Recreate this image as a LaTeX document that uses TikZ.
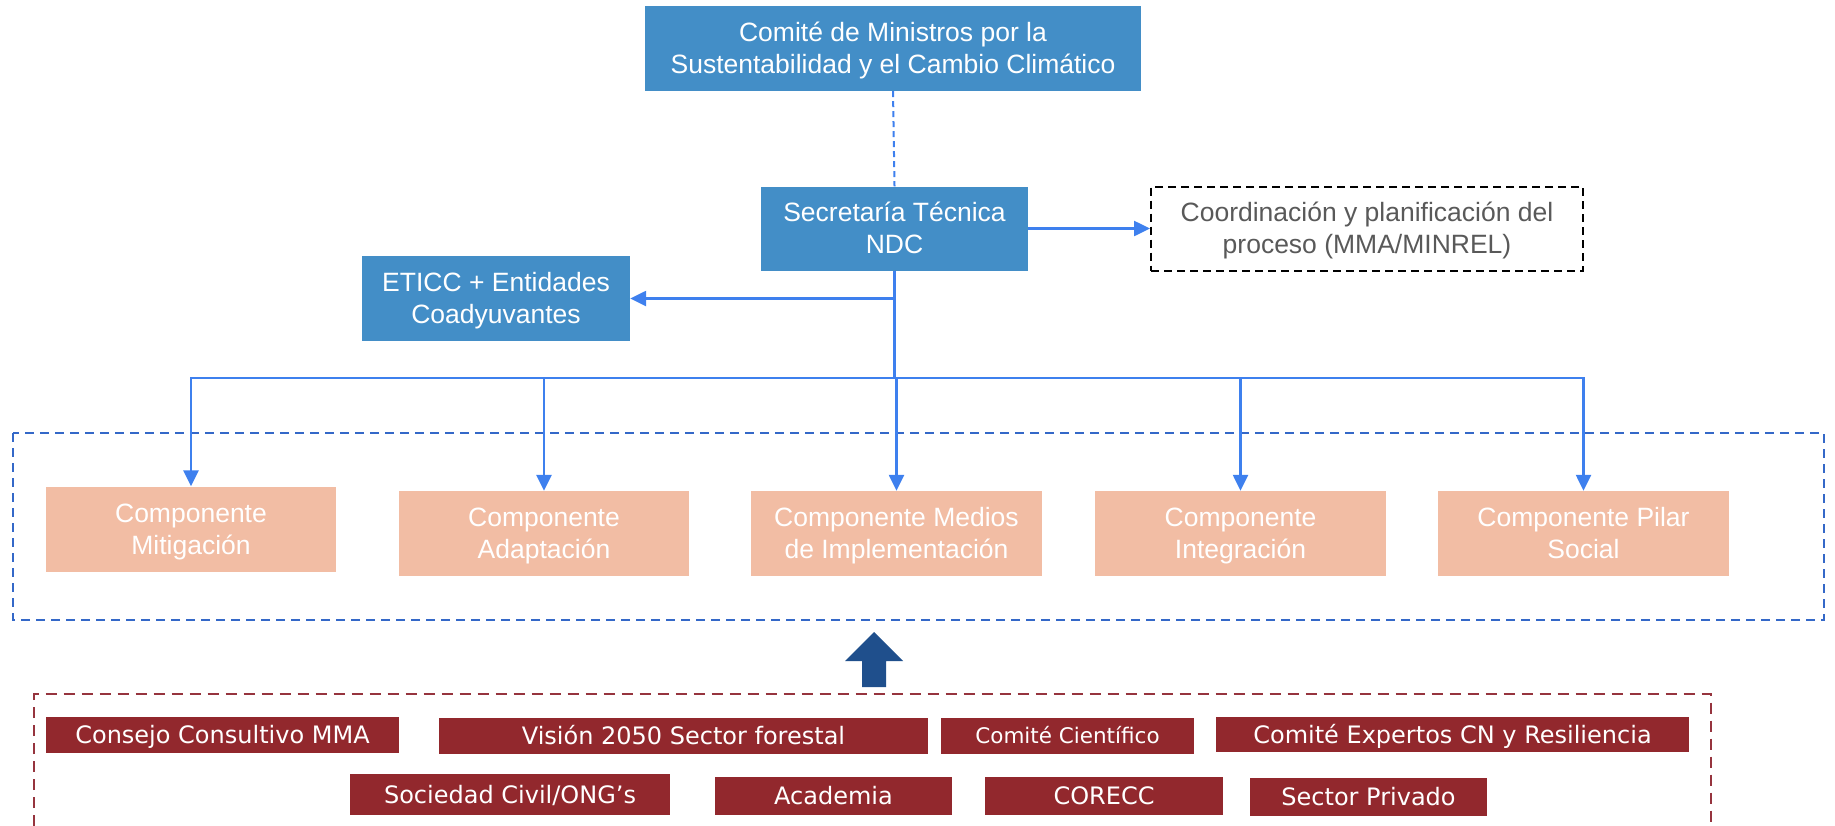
\documentclass[tikz,border=0pt]{standalone}
\usepackage{fontspec}
\setmainfont{Liberation Sans}
\newfontfamily\tahfont{DejaVu Sans}
\usetikzlibrary{arrows.meta}
\definecolor{boxblue}{RGB}{67,142,199}
\definecolor{connblue}{RGB}{62,128,238}
\definecolor{dashblue}{RGB}{52,104,200}
\definecolor{salmon}{RGB}{242,189,164}
\definecolor{darkred}{RGB}{146,40,45}
\definecolor{reddash}{RGB}{150,52,62}
\definecolor{arrowblue}{RGB}{31,79,140}
\definecolor{graytext}{RGB}{89,89,89}
\newcommand{\twoline}[2]{\begin{tabular}[b]{@{}c@{}}#1\\#2\end{tabular}}
\tikzset{
  twotext/.style={inner sep=0pt, text height=50.2pt, text depth=0pt, font=\fontsize{26.5}{32}\selectfont},
  bluebox/.style={twotext, fill=boxblue, text=white},
  compbox/.style={twotext, fill=salmon, text=white},
  coordbox/.style={twotext, draw=black, line width=2pt, dash pattern=on 8pt off 5pt, text=graytext},
  redbox/.style={fill=darkred, text=white, inner sep=0pt, text height=17.5pt, text depth=0pt, font=\tahfont\fontsize{24}{28}\selectfont},
  conn/.style={draw=connblue, line width=2.5pt},
  arr/.style={conn, -{Triangle[width=15pt,length=16pt]}},
}
\begin{document}
\begin{tikzpicture}[x=1pt,y=-1pt]
\useasboundingbox (0,0) rectangle (1835,825);
% top boxes
\node[bluebox, minimum width=496pt, minimum height=85pt] (comite) at (893,48.5) {\twoline{Comité de Ministros por la}{Sustentabilidad y el Cambio Climático}};
\node[bluebox, minimum width=267pt, minimum height=84pt] (sec) at (894.5,228.5) {\twoline{Secretaría Técnica}{NDC}};
\node[coordbox, minimum width=432pt, minimum height=84pt] (coord) at (1367,228.5) {\twoline{Coordinación y planificación del}{proceso (MMA/MINREL)}};
\node[bluebox, minimum width=268pt, minimum height=85pt] (eticc) at (496,298.5) {\twoline{ETICC + Entidades}{Coadyuvantes}};
% components frame
\draw[dashblue, line width=2pt, dash pattern=on 9pt off 6pt] (13,433) rectangle (1824,620);
\node[compbox, minimum width=290pt, minimum height=85pt] (mit) at (191,529) {\twoline{Componente}{Mitigación}};
\node[compbox, minimum width=290pt, minimum height=85pt] (adap) at (544,533.5) {\twoline{Componente}{Adaptación}};
\node[compbox, minimum width=291pt, minimum height=85pt] (med) at (896.5,533.5) {\twoline{Componente Medios}{de Implementación}};
\node[compbox, minimum width=291pt, minimum height=85pt] (integ) at (1240.5,533.5) {\twoline{Componente}{Integración}};
\node[compbox, minimum width=291pt, minimum height=85pt] (pilar) at (1583.5,533.5) {\twoline{Componente Pilar}{Social}};
% connectors
\draw[connblue, line width=2pt, dash pattern=on 6pt off 4pt] (comite.south) -- (sec.north);
\draw[arr] (sec.east) -- (coord.west);
\coordinate (bus) at (894.5,378);
\draw[arr] (sec.south) -- (sec.south |- eticc.east) -- (eticc.east);
\draw[arr] (sec.south) -- (bus) -| (mit.north);
\draw[arr] (sec.south) -- (bus) -| (adap.north);
\draw[arr] (sec.south) -- (bus) -| (med.north);
\draw[arr] (sec.south) -- (bus) -| (integ.north);
\draw[arr] (sec.south) -- (bus) -| (pilar.north);
% big up arrow
\fill[arrowblue] (862,687) -- (862,661) -- (845,661) -- (874,632) -- (903,661) -- (886,661) -- (886,687) -- cycle;
% stakeholders frame
\draw[reddash, line width=2pt, dash pattern=on 11pt off 7pt] (33.5,826) -- (33.5,694) -- (1711,694) -- (1711,826);
\node[redbox, minimum width=353pt, minimum height=36pt] (consejo) at (222.5,735) {Consejo Consultivo MMA};
\node[redbox, minimum width=489pt, minimum height=36pt] (vision) at (683.5,736) {Visión 2050 Sector forestal};
\node[redbox, minimum width=253pt, minimum height=36pt, text height=15.7pt, font=\tahfont\fontsize{21.5}{25}\selectfont] (cient) at (1067.5,736) {Comité Científico};
\node[redbox, minimum width=473pt, minimum height=35pt] (expertos) at (1452.5,734.5) {Comité Expertos CN y Resiliencia};
\node[redbox, minimum width=320pt, minimum height=41pt] (sociedad) at (510,794.5) {Sociedad Civil/ONG’s};
\node[redbox, minimum width=237pt, minimum height=38pt] (academia) at (833.5,796) {Academia};
\node[redbox, minimum width=238pt, minimum height=38pt] (corecc) at (1104,796) {CORECC};
\node[redbox, minimum width=237pt, minimum height=38pt] (privado) at (1368.5,797) {Sector Privado};
\end{tikzpicture}
\end{document}
